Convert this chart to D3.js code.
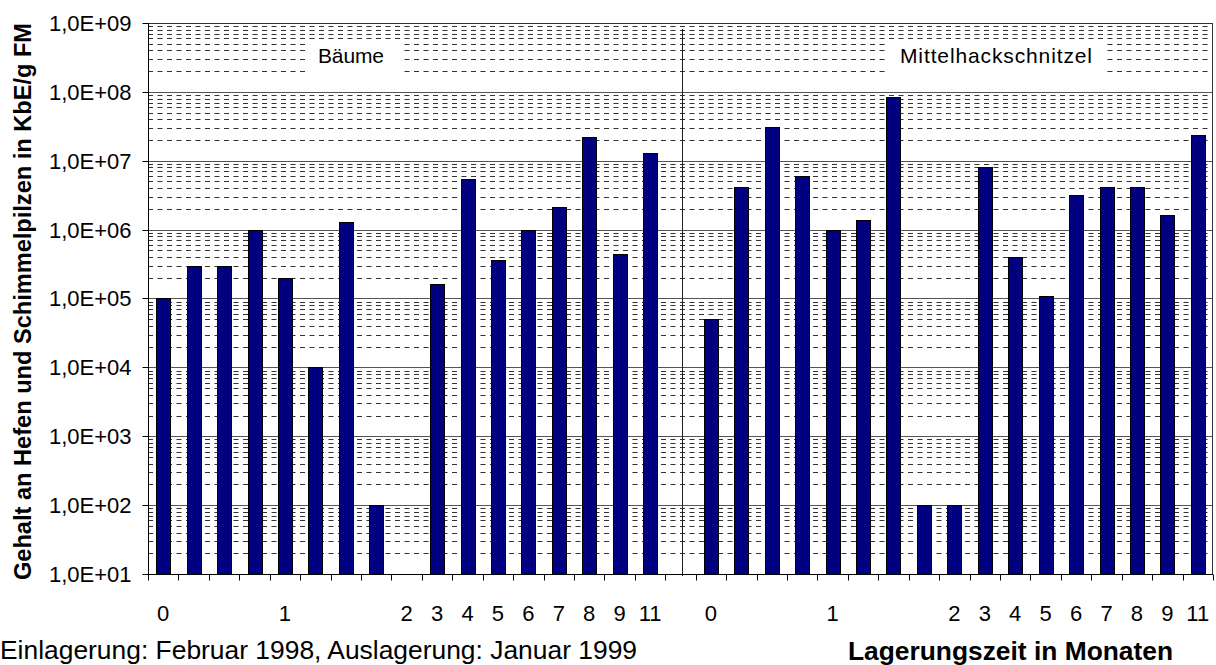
<!DOCTYPE html>
<html>
<head>
<meta charset="utf-8">
<script src="https://cdn.jsdelivr.net/npm/d3@7"></script>
<style>
  html, body { margin: 0; padding: 0; background: #fff; }
  svg { display: block; }
  text { font-family: "Liberation Sans", Arial, sans-serif; fill: #000; }
</style>
</head>
<body>
<svg id="chart" width="1216" height="665"></svg>
<script>
// ---- data ----
const baeumeLabels = ["0","","","","1","","","","2","3","4","5","6","7","8","9","11"];
const baeumeValues = [1e5, 3e5, 3e5, 1e6, 2e5, 1e4, 1.3e6, 1e2, null, 1.6e5, 5.5e6, 3.6e5, 1e6, 2.1e6, 2.2e7, 4.5e5, 1.3e7];
const mhsLabels = ["0","","","","1","","","","2","3","4","5","6","7","8","9","11"];
const mhsValues = [5e4, 4.2e6, 3.1e7, 6e6, 1e6, 1.4e6, 8.5e7, 1e2, 1e2, 8e6, 4e5, 1.1e5, 3.2e6, 4.2e6, 4.2e6, 1.65e6, 2.4e7];
const panelTitles = ["Bäume", "Mittelhackschnitzel"];
const yTickValues = [1e1, 1e2, 1e3, 1e4, 1e5, 1e6, 1e7, 1e8, 1e9];
const yTitle = "Gehalt an Hefen und Schimmelpilzen in KbE/g FM";
const xTitle = "Lagerungszeit in Monaten";
const noteText = "Einlagerung: Februar 1998, Auslagerung: Januar 1999";

// combined categories (one empty slot between the panels)
const labels = baeumeLabels.concat([""], mhsLabels);
const values = baeumeValues.concat([null], mhsValues);
const gapIndex = baeumeLabels.length;

const svg = d3.select("#chart");
const L = 148, R = 1213, T = 23, B = 574;

const x = d3.scaleBand().domain(d3.range(labels.length)).range([L, R]).padding(0);
const y = d3.scaleLog().domain([1e1, 1e9]).range([B, T]);
const snap = v => Math.round(v) + 0.5;

// ---- gridlines ----
const minor = [];
for (let e = 1; e < 9; e++) for (let m = 2; m <= 9; m++) minor.push(m * Math.pow(10, e));
svg.append("g").selectAll("line").data(minor).join("line")
  .attr("x1", L).attr("x2", R)
  .attr("y1", d => snap(y(d))).attr("y2", d => snap(y(d)))
  .attr("stroke", "#333").attr("stroke-width", 1)
  .attr("stroke-dasharray", "5,4.5");
svg.append("g").selectAll("line").data(yTickValues).join("line")
  .attr("x1", L).attr("x2", R)
  .attr("y1", d => snap(y(d))).attr("y2", d => snap(y(d)))
  .attr("stroke", "#555").attr("stroke-width", 1);

// ---- panel titles with white boxes ----
const titleBoxes = [
  {text: panelTitles[0], cx: 351, x0: 308, x1: 400, len: 66},
  {text: panelTitles[1], cx: 996, x0: 889, x1: 1105, len: 192}
];
const tg = svg.append("g");
titleBoxes.forEach(t => {
  tg.append("rect").attr("x", t.x0).attr("y", 40).attr("width", t.x1 - t.x0).attr("height", 35).attr("fill", "#fff");
  tg.append("text").attr("x", t.cx).attr("y", 63).attr("text-anchor", "middle")
    .attr("font-size", 21).attr("fill", "#222")
    .attr("textLength", t.len).attr("lengthAdjust", "spacing")
    .text(t.text);
});

// ---- bars ----
const bw = Math.round(x.bandwidth() * 0.45);
svg.append("g").selectAll("rect")
  .data(values.map((v, i) => ({v, i})).filter(d => d.v != null))
  .join("rect")
  .attr("x", d => Math.round(x(d.i) + x.bandwidth() / 2 - bw / 2) + 0.5)
  .attr("width", bw)
  .attr("y", d => snap(y(d.v)))
  .attr("height", d => snap(y(1e1)) - snap(y(d.v)))
  .attr("fill", "#000080")
  .attr("stroke", "#000").attr("stroke-width", 1);

// ---- divider between panels ----
const dx = snap(x(gapIndex) + x.bandwidth() / 2 + 2);
svg.append("line").attr("x1", dx).attr("x2", dx).attr("y1", 29).attr("y2", B + 2)
  .attr("stroke", "#222").attr("stroke-width", 1);

// ---- plot border ----
svg.append("rect").attr("x", L + 0.5).attr("y", snap(T)).attr("width", R - L - 1).attr("height", snap(B) - snap(T))
  .attr("fill", "none").attr("stroke", "#333").attr("stroke-width", 1);

// ---- y axis ----
const fmt = d => "1,0E+" + String(Math.round(Math.log10(d))).padStart(2, "0");
const yAxis = svg.append("g").attr("transform", `translate(${L + 0.5},0)`)
  .call(d3.axisLeft(y).tickValues(yTickValues).tickFormat(fmt).tickSize(6).tickPadding(11));
yAxis.select(".domain").attr("stroke", "#000").attr("d", `M0,${snap(T)}V${B + 6}`);
yAxis.selectAll(".tick").attr("transform", d => `translate(0,${snap(y(d))})`);
yAxis.selectAll(".tick line").attr("stroke", "#000");
yAxis.selectAll(".tick text").attr("font-size", 22).attr("fill", "#222")
  .attr("font-family", "'Liberation Sans', Arial, sans-serif").attr("dy", "0.36em");

// ---- x axis ----
const xg = svg.append("g");
xg.append("line").attr("x1", L).attr("x2", R).attr("y1", snap(B)).attr("y2", snap(B)).attr("stroke", "#000");
const bounds = d3.range(labels.length + 1).map(i => i < labels.length ? x(i) : R);
xg.selectAll("line.tk").data(bounds).join("line").attr("class", "tk")
  .attr("x1", d => snap(d)).attr("x2", d => snap(d))
  .attr("y1", snap(B)).attr("y2", snap(B) + 6).attr("stroke", "#000");
xg.selectAll("text").data(labels.map((l, i) => ({l, i})).filter(d => d.l !== ""))
  .join("text")
  .attr("x", d => x(d.i) + x.bandwidth() / 2)
  .attr("y", 621)
  .attr("text-anchor", "middle")
  .attr("font-size", 22)
  .text(d => d.l);

// ---- titles ----
svg.append("text")
  .attr("transform", `translate(31,${(23 + 580) / 2}) rotate(-90)`)
  .attr("text-anchor", "middle")
  .attr("font-size", 23).attr("font-weight", "bold")
  .attr("textLength", 557).attr("lengthAdjust", "spacingAndGlyphs")
  .text(yTitle);
svg.append("text").attr("x", 0).attr("y", 659)
  .attr("font-size", 26)
  .attr("textLength", 637).attr("lengthAdjust", "spacingAndGlyphs")
  .text(noteText);
svg.append("text").attr("x", 848).attr("y", 660)
  .attr("font-size", 26).attr("font-weight", "bold")
  .attr("textLength", 325).attr("lengthAdjust", "spacingAndGlyphs")
  .text(xTitle);
</script>
</body>
</html>
